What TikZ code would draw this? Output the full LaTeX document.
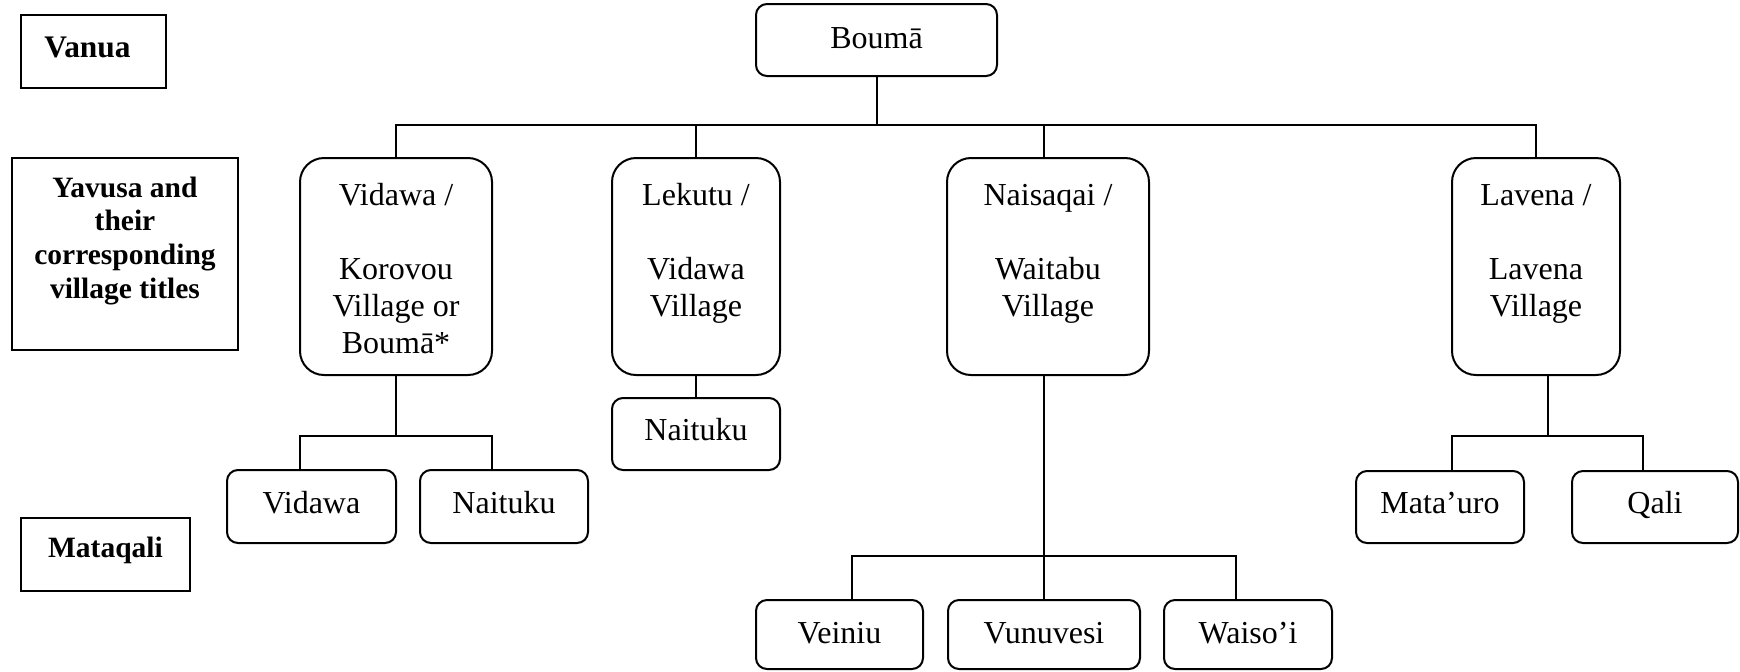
\documentclass[tikz,border=0pt]{standalone}
\usepackage{fontspec}
\setmainfont{Liberation Serif}
\newdimen\pxu \pxu=0.5pt
% #1 width, #2 height, #3 first-baseline offset (all px), #4 text
\newcommand\bx[4]{\parbox[c][#2\pxu][t]{#1\pxu}{\centering\rule{0pt}{#3\pxu}#4\par}}
\tikzset{
  rbox/.style={draw, line width=1pt, rounded corners=5.5pt, inner sep=0pt,
               font=\fontsize{16pt}{18.5pt}\selectfont},
  bigbox/.style={rbox, rounded corners=12pt},
  lbox/.style={draw, line width=1pt, inner sep=0pt,
               font=\bfseries\fontsize{14.75pt}{16.85pt}\selectfont},
  conn/.style={line width=1pt}
}
\begin{document}
\begin{tikzpicture}[x=0.5pt, y=-0.5pt]
\fill[white] (0,0) rectangle (1740,671);
\useasboundingbox (0,0) rectangle (1740,671);

% level labels
\node[lbox, font=\bfseries\fontsize{15.7pt}{18pt}\selectfont] (vanua) at (93.5,51.5) {\bx{145}{73}{42}{Vanua\kern12\pxu}};
\node[lbox] (yav) at (125,254) {\bx{226}{192}{39}{Yavusa and\\their\\corresponding\\village titles}};
\node[lbox] (mq) at (105.5,554.5) {\bx{169}{73}{39}{Mataqali}};

% vanua
\node[rbox] (bouma) at (876.5,40) {\bx{241}{72}{44}{Boumā}};

% yavusa
\node[bigbox] (vk)  at (396,266.5)  {\bx{192}{217}{47}{Vidawa /\\[18.5pt]Korovou\\Village or\\Boumā*}};
\node[bigbox] (lek) at (696,266.5)  {\bx{168}{217}{47}{Lekutu /\\[18.5pt]Vidawa\\Village}};
\node[bigbox] (nai) at (1048,266.5) {\bx{202}{217}{47}{Naisaqai /\\[18.5pt]Waitabu\\Village}};
\node[bigbox] (lav) at (1536,266.5) {\bx{168}{217}{47}{Lavena /\\[18.5pt]Lavena\\Village}};

% mataqali
\node[rbox] (vid1) at (311.5,506.5) {\bx{169}{73}{43}{Vidawa}};
\node[rbox] (nat1) at (504,506.5)   {\bx{168}{73}{43}{Naituku}};
\node[rbox] (nat2) at (696,434)     {\bx{168}{72}{42}{Naituku}};
\node[rbox] (vei)  at (839.5,634.5) {\bx{167}{69}{43}{Veiniu}};
\node[rbox] (vun)  at (1044,634.5)  {\bx{192}{69}{43}{Vunuvesi}};
\node[rbox] (wai)  at (1248,634.5)  {\bx{168}{69}{43}{Waiso’i}};
\node[rbox] (mat)  at (1440,507)    {\bx{168}{72}{42}{Mata’uro}};
\node[rbox] (qal)  at (1655,507)    {\bx{166}{72}{42}{Qali}};

% connectors: top level
\coordinate (b0) at (876.5,125);
\draw[conn] (bouma.south) -- (b0);
\draw[conn] (vk.north) -- (vk.north |- b0) -- (lav.north |- b0) -- (lav.north);
\draw[conn] (lek.north) -- (lek.north |- b0);
\draw[conn] ([xshift=-2pt]nai.north) -- ([xshift=-2pt]nai.north |- b0);

% Vidawa / Korovou
\coordinate (c1) at (396,436);
\draw[conn] (vk.south) -- (c1);
\draw[conn] ([xshift=-6pt]vid1.north) |- (c1);
\draw[conn] ([xshift=-6pt]nat1.north) |- (c1);

% Lekutu
\draw[conn] (lek.south) -- (nat2.north);

% Naisaqai
\coordinate (c3) at (1044,556);
\draw[conn] ([xshift=-2pt]nai.south) -- (vun.north);
\draw[conn] ([xshift=6pt]vei.north) |- (c3);
\draw[conn] ([xshift=-6pt]wai.north) |- (c3);

% Lavena
\coordinate (c4) at (1548,436);
\draw[conn] ([xshift=6pt]lav.south) -- (c4);
\draw[conn] ([xshift=6pt]mat.north) |- (c4);
\draw[conn] ([xshift=-6pt]qal.north) |- (c4);
\end{tikzpicture}
\end{document}
